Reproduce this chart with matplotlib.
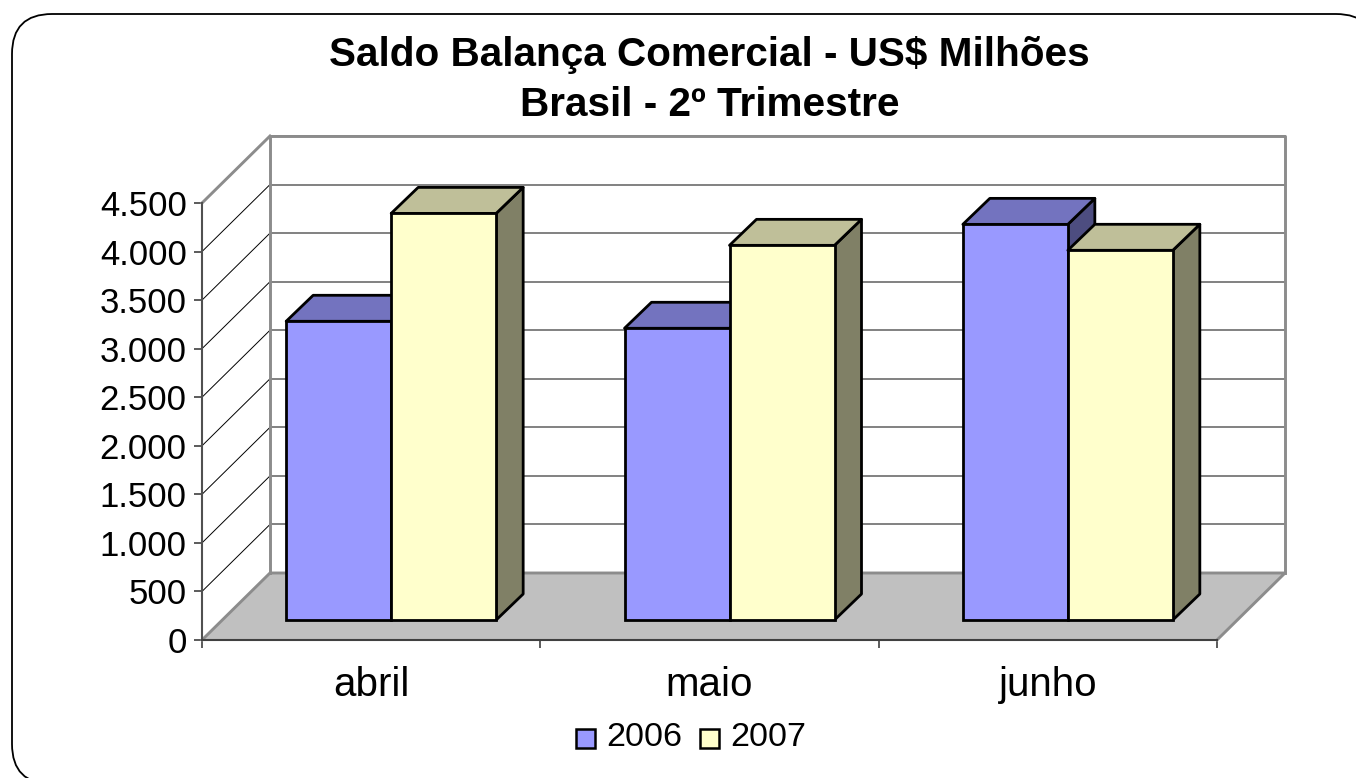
import matplotlib
matplotlib.use('Agg')
import matplotlib.pyplot as plt
from matplotlib.patches import Polygon, FancyBboxPatch, Rectangle

months = ['abril', 'maio', 'junho']
saldo_2006 = [3076, 3004, 4074]
saldo_2007 = [4187, 3858, 3807]
y_ticks = [0, 500, 1000, 1500, 2000, 2500, 3000, 3500, 4000, 4500]
y_labels = ['0', '500', '1.000', '1.500', '2.000', '2.500', '3.000', '3.500', '4.000', '4.500']

W, H = 1356, 778
plt.rcParams['font.family'] = ['Liberation Sans', 'DejaVu Sans']

fig = plt.figure(figsize=(W / 100, H / 100), dpi=100)

# rounded frame round the whole chart, runs off the right and bottom
bg = fig.add_axes([0, 0, 1, 1])
bg.set_xlim(0, W)
bg.set_ylim(H, 0)
bg.axis('off')
bg.add_patch(FancyBboxPatch((12, 14), 1364, 770, boxstyle='round,pad=0,rounding_size=40',
                            fc='white', ec='black', lw=1.3))

# front plane of the 3d box: x 202-1217, y 640-203 in pixels
ax = fig.add_axes([202 / W, 1 - 640 / H, (1217 - 202) / W, (640 - 203) / H])
ax.set_xlim(0, 3)
ax.set_ylim(0, 4500)
ax.patch.set_alpha(0)
for s in ax.spines.values():
    s.set_visible(False)

# depth of the box and of the bars, in data units
dx_unit = 3 / (1217 - 202)
dy_unit = 4500 / (640 - 203)
box_dx, box_dy = 68 * dx_unit, 67 * dy_unit
bar_front_dx, bar_front_dy = 20 * dx_unit, 20 * dy_unit
bar_dx, bar_dy = 27 * dx_unit, 26 * dy_unit
bar_w = 105 * dx_unit

wall_col = '#8c8c8c'
# floor
ax.add_patch(Polygon([(0, 0), (3, 0), (3 + box_dx, box_dy), (box_dx, box_dy)],
                     fc='#c0c0c0', ec='none', clip_on=False, zorder=1))

# gridlines on the side wall and back wall
for t in y_ticks[1:]:
    ax.plot([box_dx, 3 + box_dx], [t + box_dy, t + box_dy], color='#777777', lw=1.3,
            clip_on=False, zorder=1.5)
    ax.plot([0, box_dx], [t, t + box_dy], color='black', lw=0.7, clip_on=False, zorder=1.6)

# back wall and side wall outline
ax.plot([box_dx, box_dx, 3 + box_dx, 3 + box_dx], [box_dy, 4500 + box_dy, 4500 + box_dy, box_dy],
        color=wall_col, lw=2.1, clip_on=False, zorder=1.7)
ax.plot([0, box_dx], [4500, 4500 + box_dy], color=wall_col, lw=2.1, clip_on=False, zorder=1.7)
ax.plot([0, box_dx, 3 + box_dx, 3], [0, box_dy, box_dy, 0], color=wall_col, lw=2.1,
        clip_on=False, zorder=1.7)
# front axis lines
ax.plot([0, 0], [0, 4500], color='#505050', lw=1.5, clip_on=False, zorder=2)
ax.plot([0, 3], [0, 0], color='#404040', lw=1.5, clip_on=False, zorder=2)


def draw_bar(x0, val, front, top, side, z):
    x1 = x0 + bar_w
    y0 = bar_front_dy
    y1 = val + bar_front_dy
    ax.add_patch(Polygon([(x1, y0), (x1 + bar_dx, y0 + bar_dy), (x1 + bar_dx, y1 + bar_dy), (x1, y1)],
                         fc=side, ec='black', lw=2.0, clip_on=False, zorder=z, joinstyle='round'))
    ax.add_patch(Polygon([(x0, y1), (x1, y1), (x1 + bar_dx, y1 + bar_dy), (x0 + bar_dx, y1 + bar_dy)],
                         fc=top, ec='black', lw=2.0, clip_on=False, zorder=z, joinstyle='round'))
    ax.add_patch(Rectangle((x0, y0), bar_w, val, fc=front, ec='black', lw=2.0,
                           clip_on=False, zorder=z + 0.1))


for i in range(len(months)):
    x_c = i + 0.5 + bar_front_dx
    draw_bar(x_c - bar_w, saldo_2006[i], '#9999ff', '#7373bf', '#4d4d80', 3 + i)
    draw_bar(x_c, saldo_2007[i], '#ffffcc', '#bfbf99', '#808066', 3.5 + i)

# axis ticks and labels
ax.set_yticks(y_ticks)
ax.set_yticklabels(y_labels, fontsize=25)
ax.set_xticks([0, 1, 2, 3])
ax.set_xticklabels([])
ax.tick_params(axis='y', length=6, width=1.2, color='#404040', pad=5)
ax.tick_params(axis='x', length=6, width=1.2, color='#404040')
for i, m in enumerate(months):
    ax.text(i + 0.5, -270, m, ha='center', va='top', fontsize=29, clip_on=False)

# title
fig.text(709 / W, 1 - 55 / H, 'Saldo Balança Comercial - US$ Milhões', ha='center', va='center',
         fontsize=29.2, fontweight='bold')
fig.text(710 / W, 1 - 105 / H, 'Brasil - 2º Trimestre', ha='center', va='center',
         fontsize=29.2, fontweight='bold')

# legend
bg.add_patch(Rectangle((576, 729), 19, 19, fc='#9999ff', ec='black', lw=1.8))
bg.add_patch(Rectangle((700, 729), 19, 19, fc='#ffffcc', ec='black', lw=1.8))
bg.text(606, 738, '2006', va='center', ha='left', fontsize=24.6)
bg.text(730, 738, '2007', va='center', ha='left', fontsize=24.6)

fig.savefig('out.png', dpi=100)
